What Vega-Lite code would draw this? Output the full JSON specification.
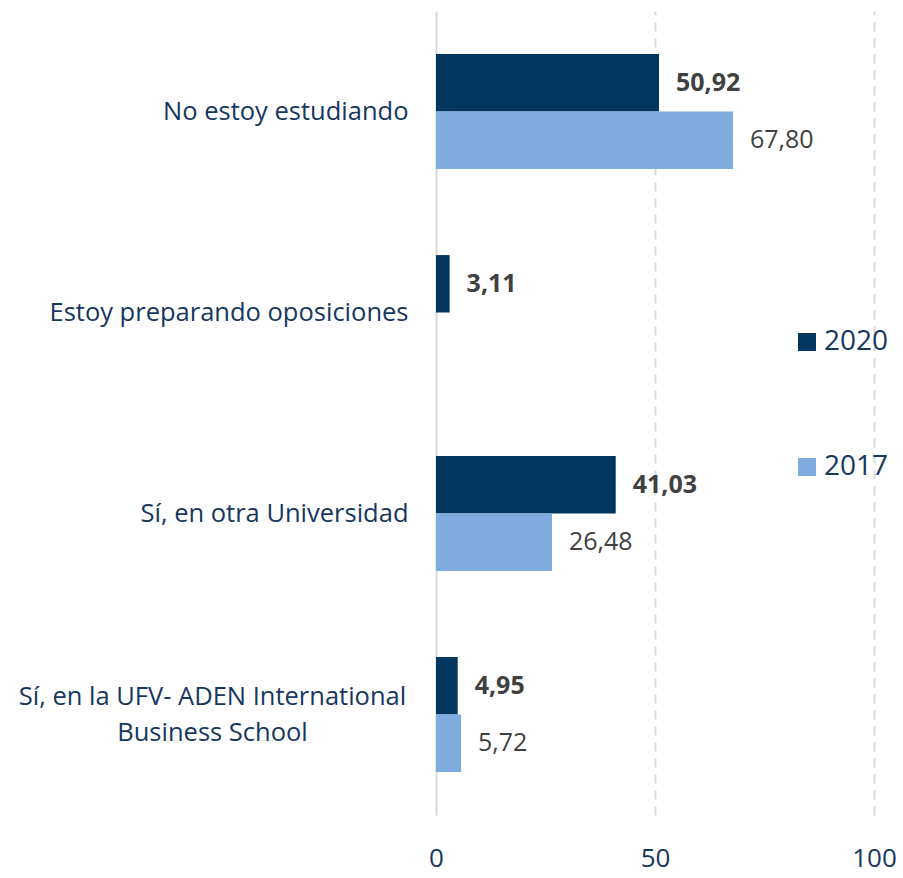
{
  "$schema": "https://vega.github.io/schema/vega-lite/v6.json",
  "width": 438,
  "height": 804,
  "autosize": "none",
  "padding": {"left": 436, "top": 11, "right": 29, "bottom": 63},
  "config": {
    "view": {"stroke": null},
    "locale": {"number": {"decimal": ",", "thousands": ".", "grouping": [3], "currency": ["", " €"]}},
    "font": "Open Sans"
  },
  "data": {
    "values": [
      {"cat": "No estoy estudiando", "year": "2020", "value": 50.92},
      {"cat": "No estoy estudiando", "year": "2017", "value": 67.80},
      {"cat": "Estoy preparando oposiciones", "year": "2020", "value": 3.11},
      {"cat": "Sí, en otra Universidad", "year": "2020", "value": 41.03},
      {"cat": "Sí, en otra Universidad", "year": "2017", "value": 26.48},
      {"cat": "Sí, en la UFV- ADEN International Business School", "year": "2020", "value": 4.95},
      {"cat": "Sí, en la UFV- ADEN International Business School", "year": "2017", "value": 5.72}
    ]
  },
  "encoding": {
    "y": {
      "field": "cat", "type": "nominal", "sort": null, "title": null,
      "scale": {"paddingInner": 0, "paddingOuter": 0},
      "axis": {
        "domain": false, "ticks": false,
        "labelFontSize": 25.5, "labelColor": "#17375E", "labelFont": "Open Sans",
        "labelLimit": 500, "labelLineHeight": 36,
        "labelExpr": "indexof(datum.label, 'ADEN') >= 0 ? ['Sí, en la UFV- ADEN International', 'Business School'] : datum.label",
        "labelAlign": {"condition": {"test": "indexof(datum.value, 'ADEN') >= 0", "value": "center"}, "value": "right"},
        "labelPadding": {"condition": {"test": "indexof(datum.value, 'ADEN') >= 0", "value": 224}, "value": 28},
        "labelOffset": {"condition": {"test": "indexof(datum.value, 'ADEN') >= 0", "value": -18}, "value": 0}
      }
    },
    "yOffset": {"field": "year", "type": "nominal", "sort": ["2020", "2017"], "scale": {"paddingInner": 0, "paddingOuter": 0.75}},
    "x": {
      "field": "value", "type": "quantitative", "title": null,
      "scale": {"domain": [0, 100]},
      "axis": {
        "values": [0, 50, 100], "domain": false, "ticks": false,
        "grid": true, "gridColor": "#d9d9d9", "gridWidth": 2,
        "gridDash": {"condition": {"test": "datum.value == 0", "value": []}, "value": [9, 7]},
        "labelFontSize": 26, "labelColor": "#17375E", "labelPadding": 30,
        "labelFont": "Open Sans", "labelFlush": false
      }
    }
  },
  "layer": [
    {
      "mark": {"type": "bar"},
      "encoding": {
        "color": {
          "field": "year", "type": "nominal", "sort": ["2020", "2017"],
          "scale": {"domain": ["2020", "2017"], "range": ["#02365F", "#7FABDF"]},
          "legend": {
            "title": null, "orient": "none", "legendX": 357, "legendY": 317,
            "symbolType": "square", "symbolSize": 324, "symbolStrokeWidth": 0,
            "labelFontSize": 28, "labelColor": "#17375E", "labelFont": "Open Sans",
            "rowPadding": 97, "labelOffset": 3
          }
        }
      }
    },
    {
      "transform": [{"filter": "datum.year == '2020'"}],
      "mark": {"type": "text", "align": "left", "baseline": "middle", "dx": 17, "fontSize": 25, "fontWeight": "bold", "color": "#404040", "font": "Open Sans"},
      "encoding": {"text": {"field": "value", "type": "quantitative", "format": ".2f"}}
    },
    {
      "transform": [{"filter": "datum.year == '2017'"}],
      "mark": {"type": "text", "align": "left", "baseline": "middle", "dx": 17, "fontSize": 25, "color": "#404040", "font": "Open Sans"},
      "encoding": {"text": {"field": "value", "type": "quantitative", "format": ".2f"}}
    }
  ]
}
